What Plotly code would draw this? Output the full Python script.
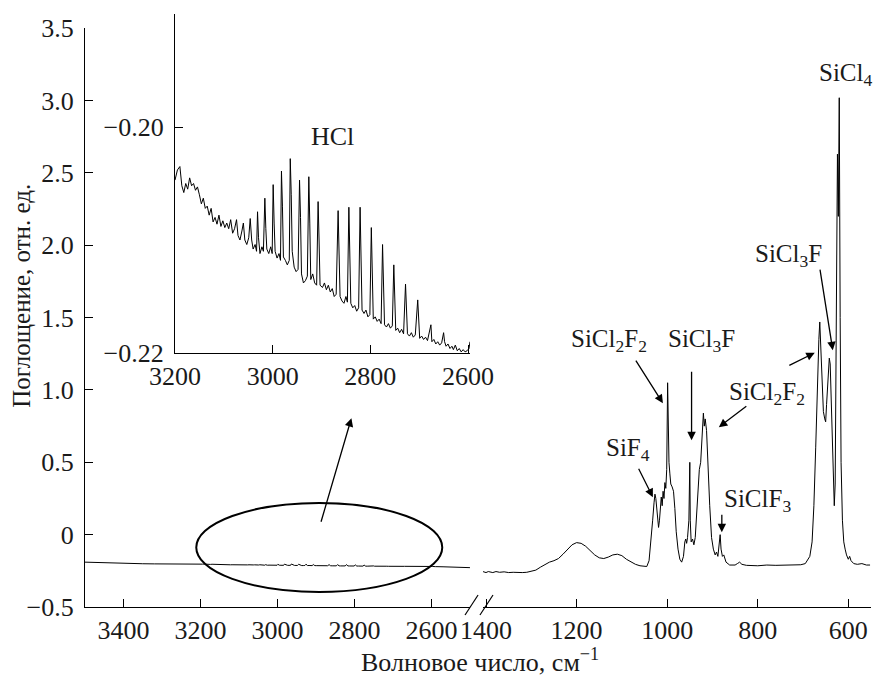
import plotly.graph_objects as go

# ---------------- data ----------------
# HCl region (inset), wavenumber cm^-1 and absorbance
inset_wn = [3200, 3195, 3190, 3186, 3182, 3178, 3174, 3170, 3166, 3162, 3158, 3154, 3150, 3146, 3142,
            3138, 3134, 3130, 3126, 3122, 3118, 3114, 3110, 3106, 3102, 3098, 3094, 3090, 3086, 3082,
            3078, 3074, 3071, 3067, 3063, 3060, 3057, 3053, 3049, 3046, 3043, 3040, 3036, 3033, 3031,
            3029, 3026, 3022, 3019, 3016, 3014, 3012, 3008, 3004, 3001, 2999, 2997, 2995, 2991, 2987,
            2984, 2982, 2980, 2978, 2974, 2970, 2966, 2964, 2962, 2960, 2956, 2952, 2948, 2945, 2943,
            2941, 2937, 2933, 2929, 2926, 2924, 2922, 2918, 2914, 2910, 2907, 2905, 2903, 2898, 2894,
            2890, 2886, 2882, 2878, 2874, 2870, 2866, 2864, 2862, 2858, 2854, 2850, 2847, 2844, 2842,
            2840, 2836, 2832, 2828, 2824, 2821, 2819, 2817, 2813, 2809, 2805, 2801, 2798, 2796, 2794,
            2790, 2786, 2782, 2778, 2775, 2773, 2771, 2767, 2763, 2759, 2755, 2752, 2750, 2748, 2744,
            2740, 2736, 2732, 2728, 2726, 2724, 2720, 2716, 2712, 2708, 2703, 2701, 2699, 2695, 2691,
            2687, 2683, 2676, 2674, 2670, 2666, 2662, 2658, 2654, 2650, 2648, 2645, 2641, 2637, 2633,
            2630, 2626, 2622, 2618, 2614, 2610, 2606, 2602, 2598, 2596]
inset_abs = [-0.2047, -0.2038, -0.2035, -0.2052, -0.2058, -0.2050, -0.2055, -0.2045, -0.2052, -0.2050,
             -0.2056, -0.2053, -0.2060, -0.2068, -0.2063, -0.2072, -0.2070, -0.2078, -0.2072, -0.2084,
             -0.2080, -0.2086, -0.2078, -0.2088, -0.2083, -0.2089, -0.2085, -0.2090, -0.2082, -0.2094,
             -0.2090, -0.2082, -0.2096, -0.2100, -0.2092, -0.2085, -0.2100, -0.2104, -0.2098, -0.2081,
             -0.2100, -0.2108, -0.2104, -0.2110, -0.2075, -0.2098, -0.2112, -0.2106, -0.2110, -0.2063,
             -0.2090, -0.2108, -0.2112, -0.2106, -0.2112, -0.2051, -0.2085, -0.2110, -0.2116, -0.2112,
             -0.2118, -0.2039, -0.2070, -0.2115, -0.2118, -0.2122, -0.2118, -0.2028, -0.2060, -0.2110,
             -0.2124, -0.2128, -0.2126, -0.2047, -0.2080, -0.2130, -0.2138, -0.2136, -0.2132, -0.2044,
             -0.2085, -0.2135, -0.2130, -0.2138, -0.2140, -0.2066, -0.2100, -0.2140, -0.2142, -0.2138,
             -0.2144, -0.2140, -0.2146, -0.2143, -0.2150, -0.2148, -0.2074, -0.2110, -0.2150, -0.2154,
             -0.2156, -0.2150, -0.2155, -0.2071, -0.2120, -0.2156, -0.2160, -0.2158, -0.2163, -0.2160,
             -0.2071, -0.2125, -0.2162, -0.2165, -0.2162, -0.2168, -0.2166, -0.2089, -0.2140, -0.2170,
             -0.2168, -0.2172, -0.2170, -0.2174, -0.2104, -0.2150, -0.2175, -0.2177, -0.2174, -0.2178,
             -0.2176, -0.2122, -0.2160, -0.2180, -0.2178, -0.2182, -0.2179, -0.2183, -0.2139, -0.2170,
             -0.2183, -0.2185, -0.2182, -0.2186, -0.2184, -0.2153, -0.2175, -0.2187, -0.2185, -0.2188,
             -0.2186, -0.2189, -0.2175, -0.2190, -0.2188, -0.2192, -0.2190, -0.2193, -0.2191, -0.2182,
             -0.2190, -0.2194, -0.2192, -0.2196, -0.2194, -0.2197, -0.2193, -0.2198, -0.2196, -0.2199,
             -0.2197, -0.2199, -0.2198, -0.2196, -0.2190]

# main spectrum, high-wavenumber part outside the inset window
left_wn_a = [3500, 3480, 3450, 3420, 3400, 3380, 3350, 3320, 3300, 3260, 3230, 3210]
left_abs_a = [-0.190, -0.192, -0.195, -0.197, -0.198, -0.200, -0.201, -0.202, -0.203, -0.203, -0.204, -0.204]
left_wn_b = [2590, 2570, 2550, 2530, 2500]
left_abs_b = [-0.221, -0.222, -0.224, -0.226, -0.228]

# main spectrum, low-wavenumber part
right_wn = [1407, 1400, 1395, 1390, 1385, 1378, 1370, 1360, 1350, 1340, 1330, 1320, 1310, 1300, 1290,
            1280, 1270, 1260, 1250, 1240, 1230, 1220, 1210, 1200, 1190, 1180, 1170, 1160, 1150, 1140,
            1130, 1120, 1110, 1100, 1090, 1080, 1070, 1060, 1050, 1045, 1040, 1036, 1032, 1029, 1027,
            1025, 1022, 1019, 1017, 1015, 1013, 1011, 1009, 1007, 1005, 1003, 1001, 999, 998, 996,
            994, 992, 989, 986, 983, 980, 976, 972, 968, 964, 961, 959, 957, 955, 952,
            950, 949, 947, 944, 941, 938, 935, 932, 929, 926, 923, 920, 918, 916, 913,
            910, 906, 902, 898, 894, 891, 888, 885, 883, 881, 878, 875, 870, 862, 850,
            845, 840, 835, 825, 800, 780, 760, 740, 720, 705, 695, 685, 680, 676, 672,
            670, 668, 665, 663, 661, 658, 655, 652, 650, 648, 645, 642, 640, 637, 634,
            631, 629, 626, 624, 622, 620, 618, 616, 613, 610, 607, 604, 600, 597, 594,
            588, 580, 570, 560, 552]
right_abs = [-0.255, -0.262, -0.255, -0.258, -0.262, -0.255, -0.260, -0.257, -0.262, -0.260, -0.262, -0.262,
             -0.260, -0.255, -0.245, -0.225, -0.205, -0.190, -0.180, -0.165, -0.135, -0.100, -0.070, -0.055,
             -0.060, -0.080, -0.110, -0.140, -0.160, -0.165, -0.155, -0.140, -0.135, -0.145, -0.170, -0.190,
             -0.205, -0.215, -0.220, -0.220, -0.180, -0.060, 0.100, 0.220, 0.280, 0.250, 0.150, 0.050,
             0.100, 0.220, 0.260, 0.200, 0.300, 0.250, 0.360, 0.320, 0.450, 1.050, 0.700, 0.500,
             0.420, 0.350, 0.330, 0.300, 0.180, 0.020, -0.100, -0.170, -0.190, -0.150, -0.050, -0.030,
             -0.060, -0.020, 0.100, 0.500, 0.100, -0.050, -0.030, -0.070, -0.020, 0.150, 0.300, 0.450,
             0.500, 0.650, 0.840, 0.750, 0.800, 0.720, 0.450, 0.200, -0.020, -0.100, -0.140, -0.120,
             -0.150, -0.080, 0.000, -0.100, -0.150, -0.140, -0.190, -0.210, -0.210, -0.200, -0.190,
             -0.205, -0.212, -0.215, -0.210, -0.212, -0.210, -0.205, -0.208, -0.200, -0.150, -0.050,
             0.200, 0.600, 0.840, 1.000, 1.350, 1.470, 1.300, 1.000, 0.850, 0.800, 0.780, 0.900,
             1.100, 1.220, 1.180, 0.900, 0.500, 0.200, 0.350, 1.500, 2.630, 2.200, 3.020, 1.500,
             0.500, 0.100, -0.050, -0.100, -0.140, -0.170, -0.150, -0.180, -0.200, -0.205, -0.200,
             -0.210, -0.210]

y_ticks = [-0.5, 0, 0.5, 1.0, 1.5, 2.0, 2.5, 3.0, 3.5]
y_ticktext = ["\u22120.5", "0", "0.5", "1.0", "1.5", "2.0", "2.5", "3.0", "3.5"]
x_left_ticks = [3400, 3200, 3000, 2800, 2600]
x_right_ticks = [1400, 1200, 1000, 800, 600]
inset_x_ticks = [3200, 3000, 2800, 2600]
inset_y_ticks = [-0.22, -0.20]

FONT = "Liberation Serif, Times New Roman, serif"
TICK = 26
INK = "#1a1a1a"

fig = go.Figure()
line = dict(color="black", width=1)
fig.add_trace(go.Scatter(x=left_wn_a + inset_wn + left_wn_b, y=left_abs_a + inset_abs + left_abs_b,
                         mode="lines", line=line, xaxis="x", yaxis="y", showlegend=False))
fig.add_trace(go.Scatter(x=right_wn, y=right_abs, mode="lines", line=line,
                         xaxis="x2", yaxis="y", showlegend=False))
fig.add_trace(go.Scatter(x=inset_wn, y=inset_abs, mode="lines", line=line,
                         xaxis="x3", yaxis="y3", showlegend=False))

ax_common = dict(showline=True, linecolor="black", linewidth=1.3, ticks="inside", ticklen=8,
                 tickwidth=1.3, tickcolor="black", showgrid=False, zeroline=False, automargin=False,
                 tickfont=dict(family=FONT, size=TICK, color=INK))

fig.update_layout(
    width=874, height=678,
    font=dict(family=FONT, size=TICK, color=INK),
    margin=dict(l=85, r=3, t=14, b=71),
    plot_bgcolor="white", paper_bgcolor="white",
    xaxis=dict(domain=[0, 0.4898], range=[3500, 2500], anchor="y",
               tickvals=x_left_ticks, **ax_common),
    xaxis2=dict(domain=[0.5064, 1.0], range=[1406.6, 549.9], anchor="y",
                tickvals=x_right_ticks, **ax_common),
    yaxis=dict(domain=[0, 0.9759], range=[-0.5, 3.5], anchor="x", ticklabelstandoff=5,
               tickvals=y_ticks, ticktext=y_ticktext, **ax_common),
    xaxis3=dict(domain=[0.1145, 0.4898], range=[3200, 2596], anchor="y3",
                tickvals=inset_x_ticks, **ax_common),
    yaxis3=dict(domain=[0.4283, 1.0], range=[-0.22, -0.19], anchor="x3", ticklabelstandoff=5,
                tickvals=inset_y_ticks, tickformat=".2f", **ax_common),
)

# ellipse around HCl region
fig.add_shape(type="circle", xref="x", yref="y", x0=3211, x1=2572, y0=-0.396, y1=0.219,
              line=dict(color="black", width=2))
# axis break marks
for x0 in (0.4835, 0.5025):
    fig.add_shape(type="line", xref="paper", yref="paper", x0=x0, x1=x0 + 0.0166,
                  y0=-0.0135, y1=0.0202, line=dict(color="black", width=1.2))

lab_font = dict(family=FONT, size=25, color=INK)
labels = [
    ("SiCl<sub>4</sub>", 605.6, 3.184),
    ("SiCl<sub>3</sub>F", 731.4, 1.932),
    ("SiCl<sub>2</sub>F<sub>2</sub>", 780.0, 0.978),
    ("SiCl<sub>3</sub>F", 923.4, 1.344),
    ("SiCl<sub>2</sub>F<sub>2</sub>", 1128.6, 1.344),
    ("SiF<sub>4</sub>", 1086.7, 0.591),
    ("SiClF<sub>3</sub>", 799.8, 0.238),
]
for t, x, y in labels:
    fig.add_annotation(text=t, x=x, y=y, xref="x2", yref="y", showarrow=False, font=lab_font,
                       xanchor="center", yanchor="middle")

arrows = [  # tip x, tip y, tail x, tail y
    (634.3, 1.275, 663.0, 1.842),
    (674.1, 1.257, 733.6, 1.165),
    (885.9, 0.743, 821.9, 0.895),
    (946.1, 0.653, 946.1, 1.137),
    (1009.4, 0.909, 1071.2, 1.213),
    (1031.5, 0.259, 1064.6, 0.466),
    (879.3, 0.017, 879.3, 0.148),
]
for x, y, ax_, ay_ in arrows:
    fig.add_annotation(text="", x=x, y=y, ax=ax_, ay=ay_, xref="x2", yref="y", axref="x2", ayref="y",
                       showarrow=True, arrowhead=2, arrowsize=1.3, arrowwidth=1.3, arrowcolor="black",
                       standoff=0)

# arrow from ellipse to inset
fig.add_annotation(text="", x=2808, y=0.805, ax=2888, ay=0.079, xref="x", yref="y", axref="x", ayref="y",
                   showarrow=True, arrowhead=2, arrowsize=1.3, arrowwidth=1.3, arrowcolor="black", standoff=0)

fig.add_annotation(text="HCl", x=2878, y=-0.2008, xref="x3", yref="y3", showarrow=False,
                   xanchor="center", yanchor="middle", font=dict(family=FONT, size=26, color=INK))

# axis titles
fig.add_annotation(text="Поглощение, отн. ед.", xref="paper", yref="paper", x=-0.0805, y=0.5245,
                   xanchor="center", yanchor="middle",
                   textangle=-90, showarrow=False, font=dict(family=FONT, size=25, color=INK))
fig.add_annotation(text="Волновое число, см<sup>\u22121</sup>", xref="paper", yref="paper",
                   x=0.5025, y=-0.1214, xanchor="center", yanchor="bottom",
                   showarrow=False, font=dict(family=FONT, size=26, color=INK))

fig.write_html("out.html", config={"displayModeBar": False},
               post_script="document.body.style.margin='0';document.body.style.padding='0';")
